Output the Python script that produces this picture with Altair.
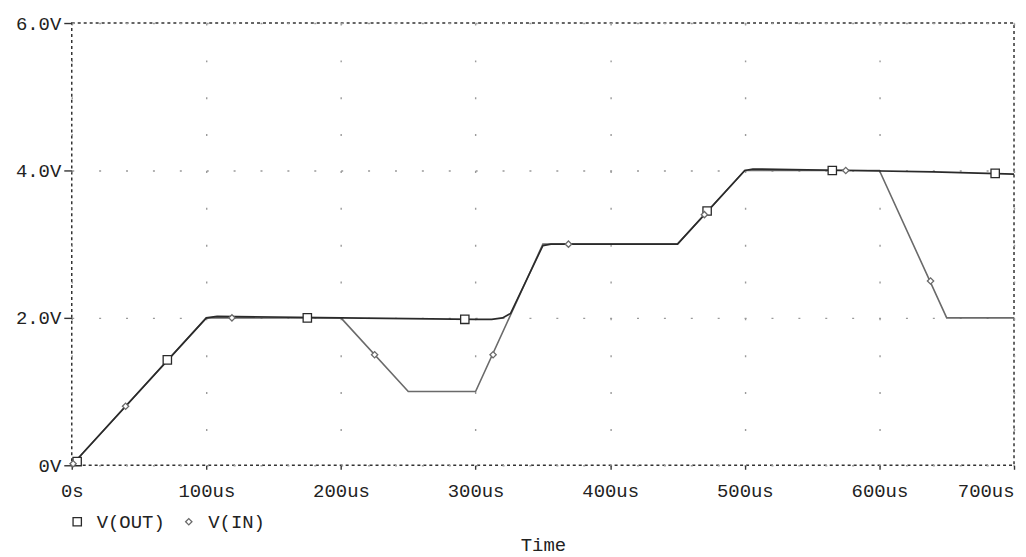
import altair as alt
import pandas as pd

# V(IN) piecewise-linear source (time in us, volts)
in_t = [0, 100, 200, 250, 300, 350, 450, 500, 600, 650, 700]
in_v = [0, 2.0, 2.0, 1.0, 1.0, 3.0, 3.0, 4.0, 4.0, 2.0, 2.0]

# V(OUT) response
out_t = [0, 100, 108, 200, 300, 312, 320, 326, 350, 356, 450, 500, 506, 580, 640, 700]
out_v = [0, 2.0, 2.02, 2.0, 1.98, 1.98, 2.0, 2.06, 2.98, 3.0, 3.0, 4.0, 4.02, 4.0, 3.98, 3.95]

# marker positions
out_mk_t = [4, 71, 175, 292, 472, 565, 686]
out_mk_v = [0.05, 1.43, 2.0, 1.98, 3.45, 4.0, 3.96]
in_mk_t = [1, 40, 119, 225, 313, 369, 470, 575, 638]
in_mk_v = [0.02, 0.8, 2.0, 1.5, 1.5, 3.0, 3.4, 4.0, 2.5]

series = ["V(OUT)", "V(IN)"]
x_ticks = [0, 100, 200, 300, 400, 500, 600, 700]
y_ticks = [0, 2, 4, 6]

lines = pd.DataFrame(
    {"t": in_t + out_t, "v": in_v + out_v,
     "s": ["V(IN)"] * len(in_t) + ["V(OUT)"] * len(out_t),
     "o": list(range(len(in_t))) + list(range(len(out_t)))}
)
marks = pd.DataFrame(
    {"t": out_mk_t + in_mk_t, "v": out_mk_v + in_mk_v,
     "s": ["V(OUT)"] * len(out_mk_t) + ["V(IN)"] * len(in_mk_t)}
)

FONT = "Liberation Mono"
FS = 19

x = alt.X("t:Q", scale=alt.Scale(domain=[0, 700], nice=False),
          axis=alt.Axis(values=x_ticks, title="Time",
                        labelExpr="datum.value == 0 ? '0s' : datum.value + 'us'",
                        labelAlign=alt.expr("datum.value == 700 ? 'right' : 'center'"),
                        gridDash=[2, 35], grid=True, tickSize=4, labelPadding=12,
                        titlePadding=36))
y = alt.Y("v:Q", scale=alt.Scale(domain=[0, 6], nice=False),
          axis=alt.Axis(values=y_ticks, title=None,
                        labelExpr="datum.value == 0 ? '0V' : format(datum.value, '.1f') + 'V'",
                        gridDash=[2, 25], grid=True, tickSize=8, labelPadding=3))

legend = alt.Legend(title=None, orient="none", legendX=-4, legendY=491,
                    direction="horizontal")
color_scale = alt.Scale(domain=series, range=["#2a2a2a", "#6a6a6a"])
shape_scale = alt.Scale(domain=series, range=["square", "diamond"])

line_layer = alt.Chart(lines).mark_line(strokeWidth=1.6).encode(
    x=x, y=y,
    color=alt.Color("s:N", scale=color_scale, legend=legend),
    order="o:Q", detail="s:N",
)

pt_layer = alt.Chart(marks).mark_point(filled=False, fill="white", strokeWidth=1.3, opacity=1).encode(
    x="t:Q", y="v:Q",
    color=alt.Color("s:N", scale=color_scale, legend=legend),
    shape=alt.Shape("s:N", scale=shape_scale, legend=legend),
    size=alt.Size("s:N", scale=alt.Scale(domain=series, range=[70, 40]), legend=None),
)

chart = (
    alt.layer(line_layer, pt_layer)
    .properties(width=946, height=444,
                autosize=alt.AutoSizeParams(type="none"),
                padding={"left": 64, "top": 14, "right": 4, "bottom": 91})
    .configure_view(stroke="#333", strokeDash=[3, 3], strokeWidth=1.5)
    .configure_axis(domain=False, gridColor="#9a9a9a", gridWidth=1.4, gridOpacity=1,
                    tickColor="#333", tickWidth=1.4,
                    labelFont=FONT, labelFontSize=FS, labelColor="#222",
                    titleFont=FONT, titleFontSize=FS, titleColor="#222", titleFontWeight="normal")
    .configure_legend(labelFont=FONT, labelFontSize=FS, labelColor="#222",
                      symbolSize=45, symbolStrokeWidth=1.3, labelOffset=10,
                      columnPadding=14, symbolFillColor="white", symbolType="square")
)

chart.save("out.html", embed_options={"renderer": "svg", "actions": False})
